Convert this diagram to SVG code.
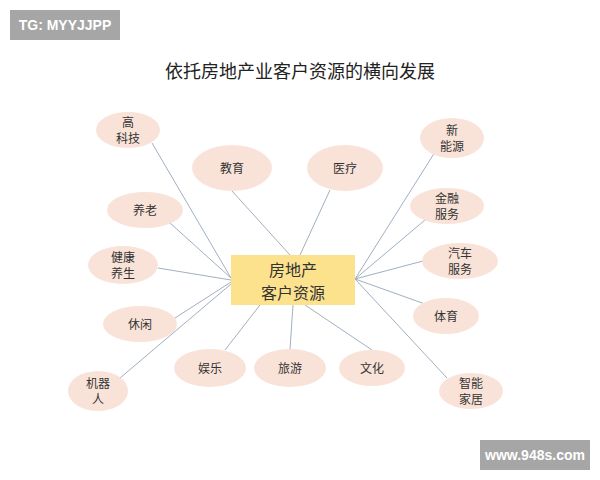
<svg xmlns="http://www.w3.org/2000/svg" width="600" height="480" viewBox="0 0 600 480">
<style>
.n{fill:#f9e3d8}
.t{font-family:"Noto Sans CJK SC","Liberation Serif",serif;font-size:12px;fill:#333;text-anchor:middle}
.w{font-family:"Liberation Sans",sans-serif;font-size:14px;font-weight:bold;fill:#fff;text-anchor:middle}
line{stroke:#9fb0c2;stroke-width:1}
</style>
<rect width="600" height="480" fill="#fff"/>
<rect x="10" y="10" width="110" height="30" fill="#a6a6a6"/>
<text class="w" x="65" y="30">TG: MYYJJPP</text>
<rect x="480" y="440" width="110" height="30" fill="#a6a6a6"/>
<text class="w" x="535" y="460">www.948s.com</text>
<text x="300" y="78" style="font-family:'Noto Sans CJK SC',serif;font-size:18px;fill:#222;text-anchor:middle">依托房地产业客户资源的横向发展</text>
<g id="connectors">
<line x1="152" y1="143" x2="231" y2="278"/>
<line x1="232" y1="191" x2="290" y2="255"/>
<line x1="330" y1="190" x2="300" y2="255"/>
<line x1="170" y1="223" x2="231" y2="278"/>
<line x1="158" y1="268" x2="231" y2="280"/>
<line x1="175" y1="318" x2="231" y2="282"/>
<line x1="120" y1="378" x2="231" y2="284"/>
<line x1="225" y1="350" x2="260" y2="305"/>
<line x1="290" y1="349" x2="293" y2="305"/>
<line x1="372" y1="350" x2="305" y2="305"/>
<line x1="435" y1="152" x2="355" y2="279"/>
<line x1="425" y1="220" x2="355" y2="279"/>
<line x1="423" y1="261" x2="355" y2="279"/>
<line x1="425" y1="304" x2="355" y2="279"/>
<line x1="447" y1="378" x2="355" y2="279"/>
</g>
<g id="center"><rect x="231" y="255" width="124" height="50" fill="#fde28e"/>
<text class="t" x="293" y="276" style="font-size:16px">房地产</text>
<text class="t" x="293" y="299" style="font-size:16px">客户资源</text></g>
<g id="n1"><ellipse class="n" cx="128" cy="130" rx="32" ry="18"/><text class="t" x="128" y="127">高</text><text class="t" x="128" y="143">科技</text></g>
<g id="n2"><ellipse class="n" cx="232" cy="168" rx="40" ry="23"/><text class="t" x="232" y="173">教育</text></g>
<g id="n3"><ellipse class="n" cx="345" cy="168" rx="38" ry="23"/><text class="t" x="345" y="173">医疗</text></g>
<g id="n4"><ellipse class="n" cx="145" cy="210" rx="38" ry="18"/><text class="t" x="145" y="215">养老</text></g>
<g id="n5"><ellipse class="n" cx="123" cy="265" rx="35" ry="19"/><text class="t" x="123" y="262">健康</text><text class="t" x="123" y="278">养生</text></g>
<g id="n6"><ellipse class="n" cx="140" cy="324" rx="37" ry="18"/><text class="t" x="140" y="329">休闲</text></g>
<g id="n7"><ellipse class="n" cx="210" cy="368" rx="36" ry="19"/><text class="t" x="210" y="373">娱乐</text></g>
<g id="n8"><ellipse class="n" cx="290" cy="368" rx="36" ry="19"/><text class="t" x="290" y="373">旅游</text></g>
<g id="n9"><ellipse class="n" cx="372" cy="368" rx="33" ry="18"/><text class="t" x="372" y="373">文化</text></g>
<g id="n10"><ellipse class="n" cx="98" cy="391" rx="30" ry="20"/><text class="t" x="98" y="388">机器</text><text class="t" x="98" y="404">人</text></g>
<g id="n11"><ellipse class="n" cx="452" cy="138" rx="32" ry="20"/><text class="t" x="452" y="135">新</text><text class="t" x="452" y="151">能源</text></g>
<g id="n12"><ellipse class="n" cx="447" cy="206" rx="37" ry="18"/><text class="t" x="447" y="203">金融</text><text class="t" x="447" y="219">服务</text></g>
<g id="n13"><ellipse class="n" cx="460" cy="261" rx="38" ry="18"/><text class="t" x="460" y="258">汽车</text><text class="t" x="460" y="274">服务</text></g>
<g id="n14"><ellipse class="n" cx="446" cy="316" rx="33" ry="18"/><text class="t" x="446" y="321">体育</text></g>
<g id="n15"><ellipse class="n" cx="471" cy="391" rx="32" ry="18"/><text class="t" x="471" y="388">智能</text><text class="t" x="471" y="404">家居</text></g>
</svg>
